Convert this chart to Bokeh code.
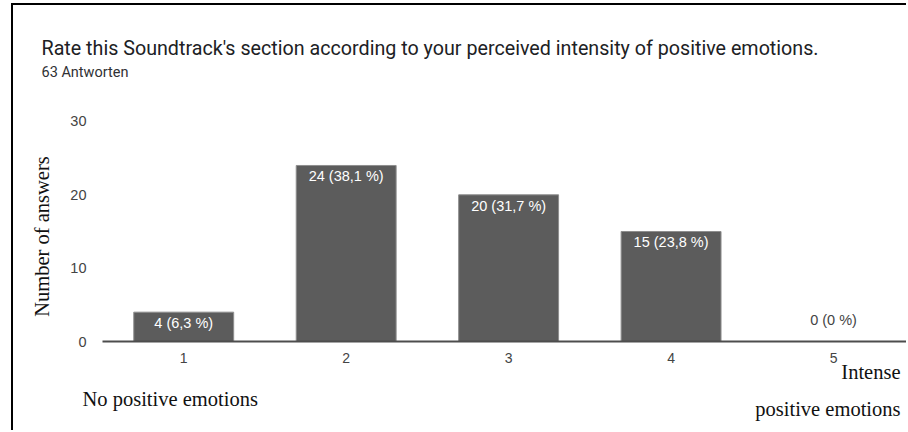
from math import pi

from bokeh.core.properties import value
from bokeh.embed import file_html
from bokeh.models import ColumnDataSource, Label, Range1d
from bokeh.plotting import figure
from bokeh.resources import INLINE

# --- data -------------------------------------------------------------
ratings = [1, 2, 3, 4, 5]
answers = [4, 24, 20, 15, 0]
total_answers = 63
y_ticks = [0, 10, 20, 30]

title_text = ("Rate this Soundtrack's section according to your perceived "
              "intensity of positive emotions.")
subtitle_text = f"{total_answers} Antworten"
y_title = "Number of answers"
low_end_text = "No positive emotions"
high_end_text = ["Intense", "positive emotions"]


def share_label(n):
    if n == 0:
        return f"{n} (0 %)"
    pct = f"{n / total_answers * 100:.1f}".replace(".", ",")
    return f"{n} ({pct} %)"


# --- geometry (page pixels) ---------------------------------------------
W, H = 895, 427          # canvas size
OX, OY = 13, 5           # canvas offset in the page (margin + border)
AX_LEFT = 102            # page x where the bar area starts
AX_BASE = 341            # page y of the zero line
PX_PER_CAT = 162.45
PX_PER_UNIT = 7.334


def dx(px):
    return 0.5 + (px - AX_LEFT) / PX_PER_CAT


def dy(py):
    return (AX_BASE - py) / PX_PER_UNIT


SANS = "Liberation Sans"
SERIF = "Liberation Serif"

# the frame fills the whole canvas; the axes are pinned inside it
p = figure(
    width=W, height=H,
    output_backend="svg", toolbar_location=None,
    x_range=Range1d(dx(OX), dx(OX + W)),
    y_range=Range1d(dy(OY + H), dy(OY)),
    min_border=0, min_border_left=0, min_border_right=0,
    min_border_top=0, min_border_bottom=0,
    background_fill_color="white", border_fill_color="white",
    outline_line_color=None,
)
p.styles = {
    "margin-left": "11px", "margin-top": "3px",
    "border-left": "2px solid #000", "border-top": "2px solid #000",
}

p.xgrid.visible = False
p.ygrid.visible = False

# --- axes ---------------------------------------------------------------
xa = p.xaxis[0]
xa.fixed_location = 0
xa.bounds = (0.5, dx(OX + W))
xa.ticker = ratings
xa.axis_line_color = "#4d4d4d"
xa.axis_line_width = 2
xa.major_tick_line_color = None
xa.minor_tick_line_color = None
xa.major_tick_out = 0
xa.major_label_standoff = 11
xa.major_label_text_font = SANS
xa.major_label_text_font_size = "14px"
xa.major_label_text_color = "#444444"

ya = p.yaxis[0]
ya.fixed_location = 0.5
ya.ticker = y_ticks
ya.axis_line_color = None
ya.major_tick_line_color = None
ya.minor_tick_line_color = None
ya.major_tick_out = 0
ya.major_label_standoff = 16
ya.major_label_text_font = SANS
ya.major_label_text_font_size = "14.5px"
ya.major_label_text_color = "#444444"

# --- bars -------------------------------------------------------------
p.vbar(x=ratings, top=answers, width=0.615,
       fill_color="#5c5c5c", line_color="#8e8e8e", line_width=1)

inside = [n > 0 for n in answers]
labels = ColumnDataSource(dict(
    x=ratings,
    y=answers,
    text=[share_label(n) for n in answers],
    color=["#ffffff" if i else "#444444" for i in inside],
    off=[11 if i else -22 for i in inside],
))
p.text(x="x", y="y", text="text", source=labels,
       text_color="color", y_offset="off",
       text_align="center", text_baseline="middle",
       text_font=value(SANS), text_font_size="14.5px")

# --- titles and captions ------------------------------------------------
p.add_layout(Label(x=dx(41), y=dy(48), text=title_text,
                   text_font="Roboto", text_font_size="19.7px",
                   text_color="#202124", text_baseline="alphabetic"))
p.add_layout(Label(x=dx(41), y=dy(72), text=subtitle_text,
                   text_font="Roboto", text_font_size="14.5px",
                   text_color="#303134", text_baseline="alphabetic"))

p.add_layout(Label(x=dx(41), y=dy(236), text=y_title, angle=pi / 2,
                   text_font=SERIF, text_font_size="20.5px",
                   text_color="#111111", text_align="center",
                   text_baseline="alphabetic"))

p.add_layout(Label(x=dx(82), y=dy(398), text=low_end_text,
                   text_font=SERIF, text_font_size="20.5px",
                   text_color="#111111", text_baseline="alphabetic"))
for line, base in zip(high_end_text, [371, 408]):
    p.add_layout(Label(x=dx(900), y=dy(base), text=line,
                       text_font=SERIF, text_font_size="20.5px",
                       text_color="#111111", text_align="right",
                       text_baseline="alphabetic"))

open("out.html", "w").write(file_html(p, INLINE))
